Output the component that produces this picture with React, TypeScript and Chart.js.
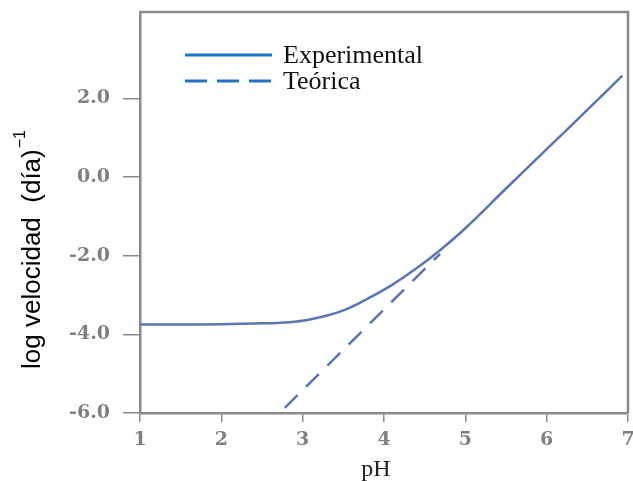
import React, { useEffect, useRef } from "react";
import { Chart, registerables } from "chart.js";

Chart.register(...registerables);

// pH values and log rate readings for the experimental curve
const phExperimental = [1.0, 1.5, 2.0, 2.5, 2.9, 3.2, 3.5, 3.8, 4.1, 4.4, 4.7, 5.0, 5.5, 6.0, 6.5, 6.93];
const logRateExperimental = [-3.75, -3.75, -3.74, -3.72, -3.68, -3.57, -3.39, -3.09, -2.74, -2.32, -1.84, -1.3, -0.29, 0.71, 1.71, 2.58];

// theoretical (dashed) line
const phTheoretical = [2.78, 4.69];
const logRateTheoretical = [-5.87, -1.95];

const xTicks = [1, 2, 3, 4, 5, 6, 7];
const yTicks = [-6, -4, -2, 0, 2];

const seriesLabels = ["Experimental", "Teórica"];
const xTitle = "pH";
const yTitle = "log velocidad  (día)";
const yTitleSup = "−1";

const LINE_COLOR = "#5b75b7";
const LEGEND_COLOR = "#1f74c6";
const AXIS_COLOR = "#8a8a8a";
const TICK_LABEL_COLOR = "#808080";

const decorPlugin = {
  id: "decor",
  afterDraw(chart: any) {
    const { ctx, chartArea } = chart;
    ctx.save();
    // top and right frame
    ctx.strokeStyle = AXIS_COLOR;
    ctx.lineWidth = 2.5;
    ctx.beginPath();
    ctx.moveTo(chartArea.left, chartArea.top);
    ctx.lineTo(chartArea.right, chartArea.top);
    ctx.lineTo(chartArea.right, chartArea.bottom);
    ctx.stroke();

    // legend
    const lx0 = chartArea.left + 45;
    const lx1 = chartArea.left + 132;
    const rows = [
      { y: chartArea.top + 43, dash: [] as number[] },
      { y: chartArea.top + 69, dash: [22, 10] },
    ];
    ctx.strokeStyle = LEGEND_COLOR;
    ctx.lineWidth = 3;
    ctx.font = '26px "Liberation Serif"';
    ctx.fillStyle = "#111";
    ctx.textBaseline = "alphabetic";
    ctx.textAlign = "left";
    rows.forEach((r, i) => {
      ctx.setLineDash(r.dash);
      ctx.beginPath();
      ctx.moveTo(lx0, r.y);
      ctx.lineTo(lx1, r.y);
      ctx.stroke();
      ctx.setLineDash([]);
      ctx.fillText(seriesLabels[i], lx1 + 11, r.y + 8);
    });

    // x title
    ctx.font = '24px "Liberation Serif"';
    ctx.textAlign = "center";
    ctx.fillStyle = "#222";
    ctx.fillText(xTitle, 376, 476);

    // y title with superscript
    ctx.translate(33, 250);
    ctx.rotate(-Math.PI / 2);
    ctx.font = '26px "Liberation Sans"';
    const w = ctx.measureText(yTitle).width;
    ctx.font = '16px "Liberation Sans"';
    const sw = ctx.measureText(yTitleSup).width;
    const start = -(w + sw) / 2;
    ctx.textAlign = "left";
    ctx.textBaseline = "middle";
    ctx.fillStyle = "#000";
    ctx.font = '26px "Liberation Sans"';
    ctx.fillText(yTitle, start, 0);
    ctx.font = '16px "Liberation Sans"';
    ctx.fillText(yTitleSup, start + w + 1, -12);
    ctx.restore();
  },
};

export default function App() {
  const ref = useRef<HTMLCanvasElement | null>(null);

  useEffect(() => {
    document.body.style.margin = "0";
    if (!ref.current) return;
    const chart = new Chart(ref.current, {
      type: "line",
      data: {
        datasets: [
          {
            label: seriesLabels[0],
            data: phExperimental.map((x, i) => ({ x, y: logRateExperimental[i] })),
            borderColor: LINE_COLOR,
            borderWidth: 2.5,
            pointRadius: 0,
            tension: 0.4,
            fill: false,
          },
          {
            label: seriesLabels[1],
            data: phTheoretical.map((x, i) => ({ x, y: logRateTheoretical[i] })),
            borderColor: LINE_COLOR,
            borderWidth: 2.5,
            borderDash: [18, 12],
            pointRadius: 0,
            fill: false,
          },
        ],
      },
      options: {
        responsive: false,
        animation: false,
        layout: { padding: { top: 12, right: 5, left: 0, bottom: 0 } },
        plugins: {
          legend: { display: false },
          tooltip: { enabled: false },
          title: { display: false },
        },
        scales: {
          x: {
            type: "linear",
            min: 1,
            max: 7,
            afterBuildTicks: (scale: any) => {
              scale.ticks = xTicks.map((v) => ({ value: v }));
            },
            afterFit: (scale: any) => {
              scale.height = 68;
              scale.paddingLeft = 0;
              scale.paddingRight = 0;
            },
            grid: {
              display: true,
              drawOnChartArea: false,
              drawTicks: true,
              tickLength: 9,
              color: AXIS_COLOR,
              lineWidth: 1.5,
            },
            border: { display: true, color: AXIS_COLOR, width: 2.5 },
            ticks: {
              padding: 7,
              color: TICK_LABEL_COLOR,
              font: { family: '"DejaVu Serif"', size: 19, weight: "bold" },
              maxRotation: 0,
              callback: (v: any) => String(v),
            },
          },
          y: {
            type: "linear",
            min: -6,
            max: 4.2,
            afterBuildTicks: (scale: any) => {
              scale.ticks = yTicks.map((v) => ({ value: v }));
            },
            afterFit: (scale: any) => {
              scale.width = 140;
              scale.paddingTop = 0;
              scale.paddingBottom = 0;
            },
            grid: {
              display: true,
              drawOnChartArea: false,
              drawTicks: true,
              tickLength: 17,
              color: AXIS_COLOR,
              lineWidth: 1.5,
            },
            border: { display: true, color: AXIS_COLOR, width: 2.5 },
            ticks: {
              padding: 13,
              color: TICK_LABEL_COLOR,
              font: { family: '"DejaVu Serif"', size: 19, weight: "bold" },
              callback: (v: any) => Number(v).toFixed(1),
            },
          },
        },
      },
      plugins: [decorPlugin],
    });
    return () => chart.destroy();
  }, []);

  return <canvas ref={ref} width={633} height={481} style={{ display: "block" }} />;
}
